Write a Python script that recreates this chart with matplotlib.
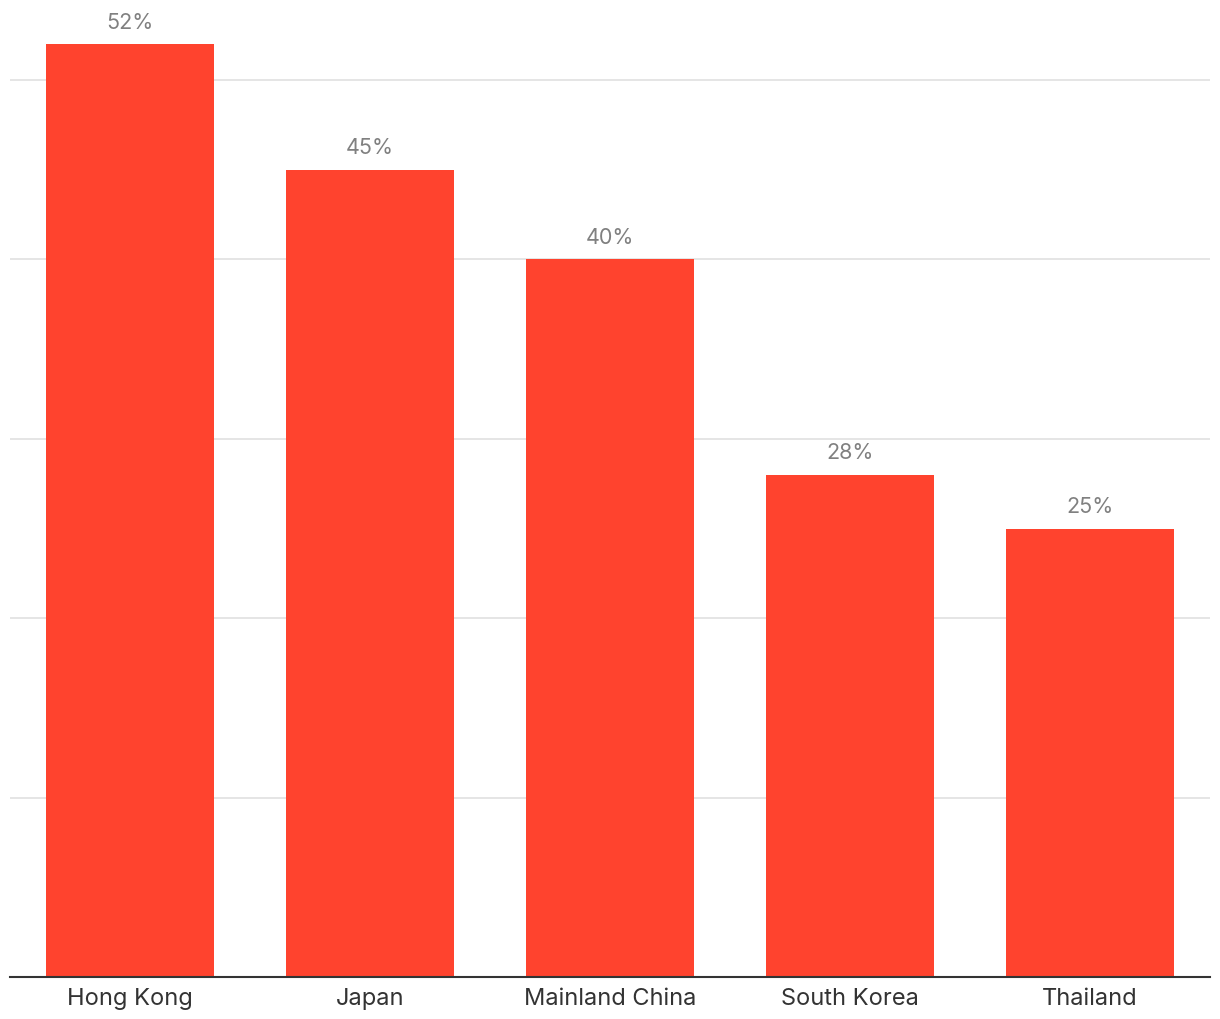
import matplotlib.pyplot as plt

countries = ['Hong Kong', 'Japan', 'Mainland China', 'South Korea', 'Thailand']
shares = [52, 45, 40, 28, 25]
labels = ['52%', '45%', '40%', '28%', '25%']

plt.rcParams['font.family'] = ['Inter', 'DejaVu Sans']

fig = plt.figure(figsize=(12.2, 10.2), dpi=100)
ax = fig.add_axes([10 / 1220, 42 / 1020, 1200 / 1220, 978 / 1020])

ax.bar(range(len(countries)), shares, width=0.7, color='#ff432e', zorder=2)
for i, (v, t) in enumerate(zip(shares, labels)):
    ax.text(i, v + 0.7, t, ha='center', va='bottom', fontsize=15.5, color='#808080')

ax.set_xlim(-0.5, len(countries) - 0.5)
ax.set_ylim(0, 978 / 17.94)
ax.set_yticks([10, 20, 30, 40, 50])
ax.set_yticklabels([])
ax.yaxis.grid(True, color='#e3e3e3', linewidth=1.3, zorder=0)
ax.tick_params(axis='y', length=0)
ax.set_xticks(range(len(countries)))
ax.set_xticklabels(countries, fontsize=17, color='#333333')
ax.tick_params(axis='x', length=0, pad=7)

for s in ['top', 'right', 'left']:
    ax.spines[s].set_visible(False)
ax.spines['bottom'].set_color('#333333')
ax.spines['bottom'].set_linewidth(1.5)
ax.spines['bottom'].set_zorder(3)

fig.savefig('out.png', dpi=100)
